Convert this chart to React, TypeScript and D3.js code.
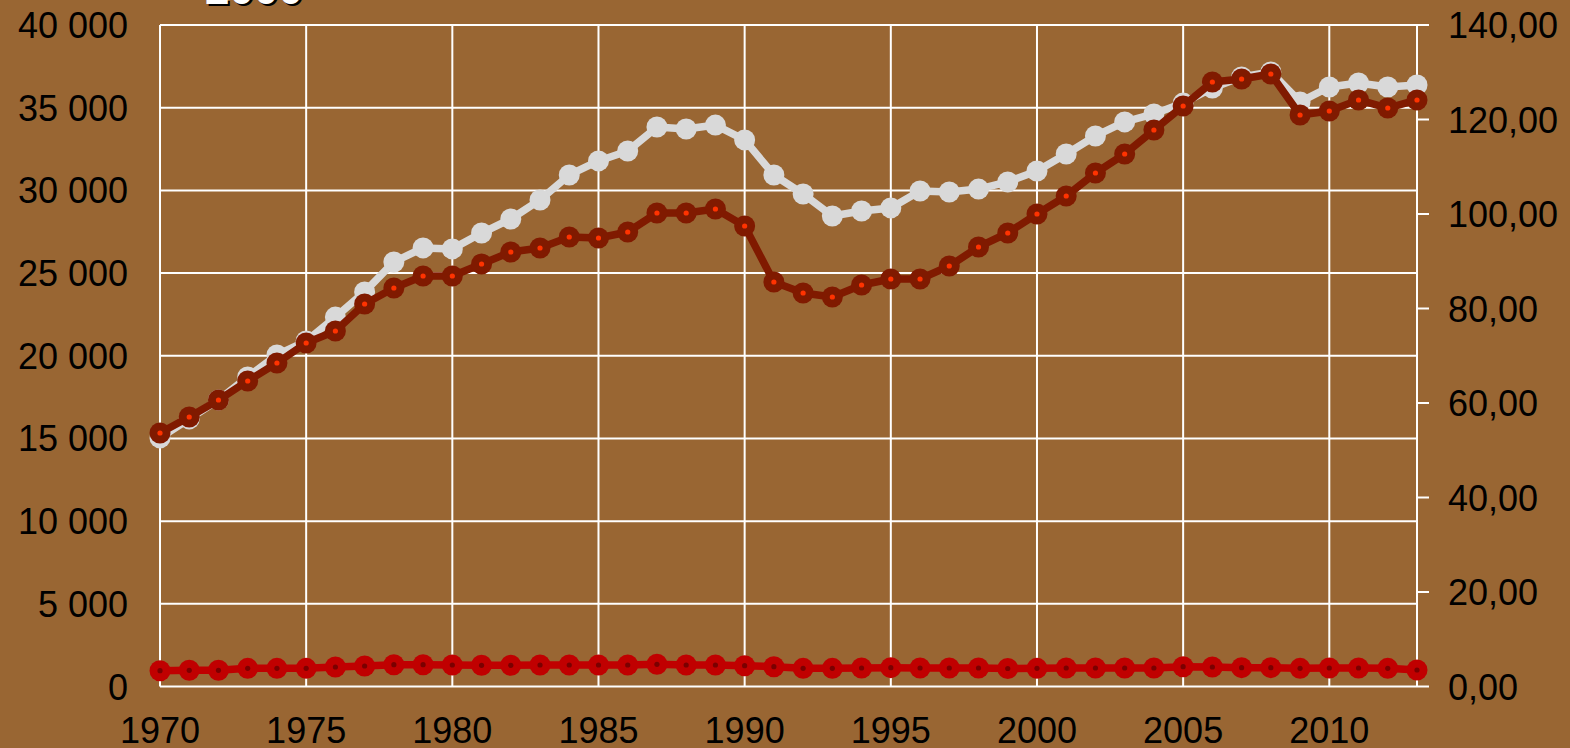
import React, { useRef, useEffect } from "react";
import * as d3 from "d3";

const years = d3.range(1970, 2014);

// left axis series (light grey)
const greyValues = [
  15030, 16180, 17330, 18720, 20050, 20890, 22340, 23860, 25670, 26520,
  26460, 27420, 28270, 29420, 30930, 31780, 32380, 33830, 33710, 33950,
  33050, 30930, 29780, 28450, 28750, 28940, 29960, 29900, 30080, 30510,
  31170, 32200, 33290, 34140, 34620, 35280, 36190, 36860, 37160, 35350,
  36250, 36490, 36250, 36370,
];

// right axis series (dark red, 2000 = 100)
const indexValues = [
  53.65, 57.04, 60.63, 64.66, 68.47, 72.7, 75.24, 80.95, 84.34, 86.88,
  86.88, 89.42, 91.96, 92.8, 95.13, 94.92, 96.19, 100.21, 100.21, 101.06,
  97.46, 85.61, 83.28, 82.43, 84.97, 86.24, 86.24, 88.99, 93.02, 95.98,
  100.0, 103.81, 108.68, 112.7, 117.78, 122.86, 127.94, 128.57, 129.63, 120.95,
  121.8, 124.13, 122.43, 124.13,
];

// right axis series (red, near the bottom)
const lowValues = [
  3.34, 3.43, 3.43, 3.85, 3.85, 3.85, 4.13, 4.34, 4.61, 4.61,
  4.55, 4.49, 4.49, 4.55, 4.55, 4.55, 4.55, 4.7, 4.55, 4.55,
  4.4, 4.19, 3.85, 3.85, 3.92, 3.98, 3.92, 3.92, 3.92, 3.81,
  3.85, 3.92, 3.92, 3.92, 3.92, 4.19, 4.13, 3.98, 3.98, 3.85,
  3.92, 3.92, 3.85, 3.49,
];

const leftTicks = [0, 5000, 10000, 15000, 20000, 25000, 30000, 35000, 40000];
const rightTicks = [0, 20, 40, 60, 80, 100, 120, 140];
const yearTicks = [1970, 1975, 1980, 1985, 1990, 1995, 2000, 2005, 2010];

const WIDTH = 1570;
const HEIGHT = 748;
const FONT = "'Liberation Sans', Arial, sans-serif";

function App() {
  const svgRef = useRef<SVGSVGElement>(null);

  useEffect(() => {
    const svg = d3.select(svgRef.current);
    svg.selectAll("*").remove();

    const left = 160;
    const right = 1417;
    const top = 25;
    const bottom = 686.5;

    const x = d3.scaleLinear().domain([1970, 2013]).range([left, right]);
    const yLeft = d3.scaleLinear().domain([0, 40000]).range([bottom, top]);
    const yRight = d3.scaleLinear().domain([0, 140]).range([bottom, top]);

    const locale = d3.formatLocale({
      decimal: ",",
      thousands: " ",
      grouping: [3],
      currency: ["", ""],
    });
    const fmtLeft = locale.format(",");
    const fmtRight = locale.format(",.2f");

    // background
    svg
      .append("rect")
      .attr("width", WIDTH)
      .attr("height", HEIGHT)
      .attr("fill", "#996633");

    // cut-off title remnant
    svg
      .append("text")
      .attr("x", 207)
      .attr("y", 6)
      .attr("font-family", FONT)
      .attr("font-weight", "bold")
      .attr("font-size", 44)
      .attr("fill", "#000")
      .text("2000");
    svg
      .append("text")
      .attr("x", 205)
      .attr("y", 4)
      .attr("font-family", FONT)
      .attr("font-weight", "bold")
      .attr("font-size", 44)
      .attr("fill", "#fff")
      .text("2000");

    const grid = svg.append("g").attr("stroke", "#fff").attr("stroke-width", 2);

    // horizontal grid
    grid
      .selectAll(".hgrid")
      .data(leftTicks)
      .enter()
      .append("line")
      .attr("x1", left)
      .attr("x2", right)
      .attr("y1", (d) => yLeft(d))
      .attr("y2", (d) => yLeft(d));

    // vertical grid (incl. right edge)
    grid
      .selectAll(".vgrid")
      .data([...yearTicks, 2013])
      .enter()
      .append("line")
      .attr("x1", (d) => x(d))
      .attr("x2", (d) => x(d))
      .attr("y1", top)
      .attr("y2", bottom);

    // right axis tick marks
    grid
      .selectAll(".rtick")
      .data(rightTicks)
      .enter()
      .append("line")
      .attr("x1", right)
      .attr("x2", right + 12)
      .attr("y1", (d) => yRight(d))
      .attr("y2", (d) => yRight(d));

    // axis labels
    const labels = svg
      .append("g")
      .attr("font-family", FONT)
      .attr("font-size", 36)
      .attr("fill", "#000");

    labels
      .selectAll(".ll")
      .data(leftTicks)
      .enter()
      .append("text")
      .attr("x", 128)
      .attr("y", (d) => yLeft(d) + 13)
      .attr("text-anchor", "end")
      .text((d) => fmtLeft(d));

    labels
      .selectAll(".rl")
      .data(rightTicks)
      .enter()
      .append("text")
      .attr("x", 1448)
      .attr("y", (d) => yRight(d) + 13)
      .text((d) => fmtRight(d));

    labels
      .selectAll(".xl")
      .data(yearTicks)
      .enter()
      .append("text")
      .attr("x", (d) => x(d))
      .attr("y", 743)
      .attr("text-anchor", "middle")
      .text((d) => d);

    // series
    const drawSeries = (
      values: number[],
      y: d3.ScaleLinear<number, number>,
      color: string,
      dot: string | null
    ) => {
      const pts = values.map((v, i) => [x(years[i]), y(v)] as [number, number]);
      const g = svg.append("g");
      g.append("path")
        .attr("d", d3.line()(pts))
        .attr("fill", "none")
        .attr("stroke", color)
        .attr("stroke-width", 7.5)
        .attr("stroke-linejoin", "round");
      g.selectAll(".m")
        .data(pts)
        .enter()
        .append("circle")
        .attr("cx", (d) => d[0])
        .attr("cy", (d) => d[1])
        .attr("r", 10.5)
        .attr("fill", color);
      if (dot) {
        g.selectAll(".d")
          .data(pts)
          .enter()
          .append("circle")
          .attr("cx", (d) => d[0])
          .attr("cy", (d) => d[1])
          .attr("r", 2.6)
          .attr("fill", dot);
      }
    };

    drawSeries(greyValues, yLeft, "#d9d9d9", null);
    drawSeries(indexValues, yRight, "#801a00", "#ff3300");
    drawSeries(lowValues, yRight, "#c00000", "#7a0000");
  }, []);

  return (
    <div style={{ position: "fixed", left: 0, top: 0, width: WIDTH, height: HEIGHT }}>
      <svg ref={svgRef} width={WIDTH} height={HEIGHT} style={{ display: "block" }}></svg>
    </div>
  );
}

export default App;
